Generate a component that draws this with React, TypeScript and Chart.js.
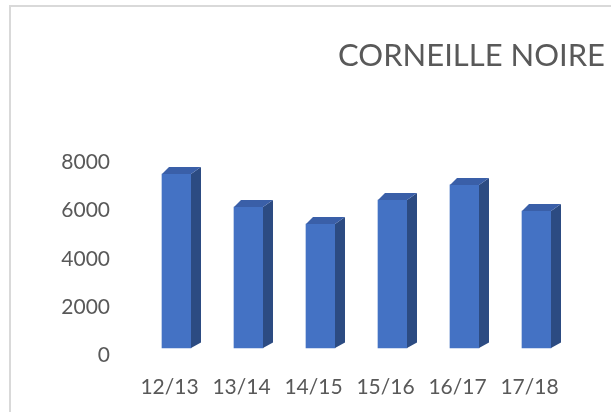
import React, { useEffect, useRef } from "react";
import { Chart, registerables } from "chart.js";

Chart.register(...registerables);

const categories = ["12/13", "13/14", "14/15", "15/16", "16/17", "17/18"];
const values = [7520, 6150, 5440, 6440, 7070, 5980];
const yTickValues = [0, 2000, 4000, 6000, 8000];
const chartTitle = "CORNEILLE NOIRE";

const FRONT = "#4472C4";
const SIDE = "#2C4B82";
const TOP = "#3A5FA8";
const TEXT = "#595959";

const bar3d = {
  id: "bar3d",
  afterDatasetsDraw(chart: any) {
    const ctx = chart.ctx;
    const meta = chart.getDatasetMeta(0);
    meta.data.forEach((el: any) => {
      const { x, y, base, width } = el.getProps(["x", "y", "base", "width"], true);
      const L = x - width / 2;
      const R = x + width / 2;
      ctx.save();
      ctx.fillStyle = SIDE;
      ctx.beginPath();
      ctx.moveTo(R, y);
      ctx.lineTo(R + 10, y - 7);
      ctx.lineTo(R + 10, base - 5.5);
      ctx.lineTo(R, base);
      ctx.closePath();
      ctx.fill();
      ctx.fillStyle = TOP;
      ctx.beginPath();
      ctx.moveTo(L, y);
      ctx.lineTo(L + 7, y - 7);
      ctx.lineTo(R + 10, y - 7);
      ctx.lineTo(R, y);
      ctx.closePath();
      ctx.fill();
      ctx.restore();
    });
  },
};

const titlePlugin = {
  id: "rightTitle",
  afterDraw(chart: any) {
    const ctx = chart.ctx;
    ctx.save();
    ctx.font = "31px Lato";
    ctx.fillStyle = TEXT;
    ctx.textAlign = "right";
    ctx.textBaseline = "alphabetic";
    ctx.fillText(chartTitle, 605, 66);
    ctx.restore();
  },
};

export default function App() {
  const ref = useRef<HTMLCanvasElement | null>(null);
  useEffect(() => {
    if (!ref.current) return;
    const tickFont = { family: "Lato", size: 21 };
    const chart = new Chart(ref.current, {
      type: "bar",
      data: {
        labels: categories,
        datasets: [
          {
            data: values,
            backgroundColor: FRONT,
            borderWidth: 0,
            barThickness: 29,
            base: 290,
          } as any,
        ],
      },
      options: {
        animation: false,
        responsive: false,
        devicePixelRatio: 1,
        layout: { padding: { left: 0, right: 38.5, top: 162.5, bottom: 0 } },
        plugins: {
          legend: { display: false },
          tooltip: { enabled: false },
          title: { display: false },
        },
        scales: {
          x: {
            grid: { display: false, drawTicks: false },
            border: { display: false },
            ticks: {
              font: tickFont,
              color: TEXT,
              padding: 20,
              labelOffset: -7,
              maxRotation: 0,
              autoSkip: false,
            },
            afterFit: (s: any) => {
              s.height = 57;
            },
          },
          y: {
            min: 0,
            max: 8000,
            grid: { display: false, drawTicks: false },
            border: { display: false },
            ticks: {
              font: tickFont,
              color: TEXT,
              padding: 30.5,
              callback: (v: any) => String(v),
            },
            afterBuildTicks: (s: any) => {
              s.ticks = yTickValues.map((v) => ({ value: v }));
            },
            afterFit: (s: any) => {
              s.width = 140.5;
            },
          },
        },
      },
      plugins: [bar3d, titlePlugin],
    });
    return () => chart.destroy();
  }, []);

  return (
    <div
      style={{
        position: "absolute",
        left: 0,
        top: 0,
        width: 611,
        height: 412,
        overflow: "hidden",
        background: "#fff",
      }}
    >
      <div
        style={{
          position: "absolute",
          left: 9,
          top: 5,
          width: 700,
          height: 500,
          borderTop: "2px solid #d9d9d9",
          borderLeft: "2px solid #d9d9d9",
        }}
      />
      <canvas
        ref={ref}
        width={611}
        height={412}
        style={{ position: "absolute", left: 0, top: 0 }}
      />
    </div>
  );
}
